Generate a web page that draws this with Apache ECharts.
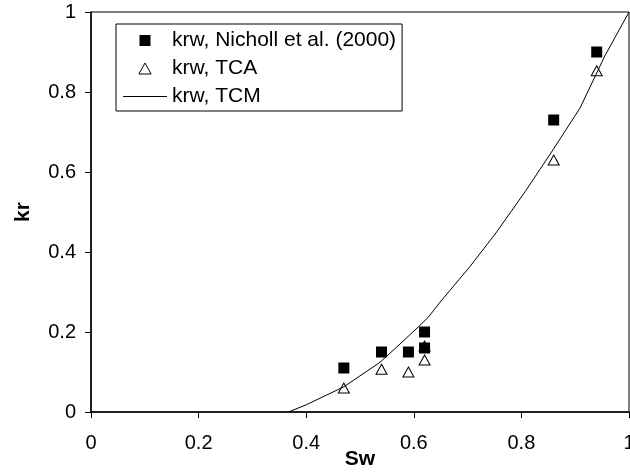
<!DOCTYPE html>
<html><head><meta charset="utf-8">
<script src="https://cdn.jsdelivr.net/npm/echarts@6/dist/echarts.min.js"></script>
<style>html,body{margin:0;padding:0;background:#fff}#c{width:630px;height:475px}</style>
</head><body><div id="c"></div>
<script>
const xTicks = [0, 0.2, 0.4, 0.6, 0.8, 1];
const yTicks = [0, 0.2, 0.4, 0.6, 0.8, 1];
const nichollSw = [0.47, 0.54, 0.59, 0.62, 0.62, 0.86, 0.94];
const nichollKr = [0.11, 0.15, 0.15, 0.20, 0.16, 0.73, 0.90];
const tcaSw = [0.47, 0.54, 0.59, 0.62, 0.62, 0.86, 0.94];
const tcaKr = [0.06, 0.107, 0.10, 0.13, 0.165, 0.63, 0.853];
const tcmSw = [0.367, 0.40, 0.47, 0.537, 0.568, 0.611, 0.627, 0.649, 0.704, 0.754, 0.807, 0.859, 0.909, 0.955, 1.0];
const tcmKr = [0, 0.018, 0.063, 0.124, 0.162, 0.216, 0.237, 0.275, 0.363, 0.45, 0.551, 0.656, 0.76, 0.89, 1.0];
const names = ['krw, Nicholl et al. (2000)', 'krw, TCA', 'krw, TCM'];

const zip = (a, b) => a.map((v, i) => [v, b[i]]);
const FONT = 'Liberation Sans, Arial, sans-serif';
const chart = echarts.init(document.getElementById('c'), null, {renderer: 'canvas'});
chart.setOption({
  animation: false,
  backgroundColor: '#fff',
  grid: {left: 91, right: 1, top: 12, bottom: 63, containLabel: false, outerBoundsMode: 'none',
    show: true, borderColor: '#000', borderWidth: 1},
  xAxis: {
    type: 'value', min: 0, max: 1, interval: 0.2,
    name: 'Sw', nameLocation: 'middle', nameGap: 37, nameMoveOverlap: false,
    nameTextStyle: {fontFamily: FONT, fontSize: 21, fontWeight: 'bold', color: '#000'},
    axisLine: {show: true, onZero: false, lineStyle: {color: '#000', width: 1.5}},
    axisTick: {show: true, inside: false, length: 6, lineStyle: {color: '#000'}},
    axisLabel: {fontFamily: FONT, fontSize: 20, color: '#000', margin: 21,
      formatter: v => { const t = xTicks.find(k => Math.abs(k - v) < 1e-9); return t === undefined ? '' : String(t); }},
    splitLine: {show: false}
  },
  yAxis: {
    type: 'value', min: 0, max: 1, interval: 0.2,
    name: 'kr', nameLocation: 'middle', nameGap: 57, nameMoveOverlap: false,
    nameTextStyle: {fontFamily: FONT, fontSize: 21, fontWeight: 'bold', color: '#000'},
    axisLine: {show: true, onZero: false, lineStyle: {color: '#000', width: 1.5}},
    axisTick: {show: true, inside: false, length: 6, lineStyle: {color: '#000'}},
    axisLabel: {fontFamily: FONT, fontSize: 20, color: '#000', margin: 15,
      formatter: v => { const t = yTicks.find(k => Math.abs(k - v) < 1e-9); return t === undefined ? '' : String(t); }},
    splitLine: {show: false}
  },
  legend: {
    orient: 'vertical', left: 116, top: 24,
    borderColor: '#000', borderWidth: 1, backgroundColor: '#fff',
    padding: [6, 6, 4, 7], itemGap: 7,
    itemWidth: 44, itemHeight: 11,
    textStyle: {fontFamily: FONT, fontSize: 21, color: '#000'},
    data: [
      {name: names[0], icon: 'path://M0,0h10v10h-10z', itemStyle: {color: '#000', opacity: 1}},
      {name: names[1], icon: 'path://M5,0L10,9L0,9Z', itemStyle: {color: '#fff', borderColor: '#000', borderWidth: 1, opacity: 1}},
      {name: names[2], icon: 'path://M0,0h44v1h-44z', itemStyle: {color: '#000', opacity: 1}}
    ]
  },
  series: [
    {name: names[1], type: 'scatter', z: 2, data: zip(tcaSw, tcaKr),
      symbol: 'triangle', symbolSize: [11, 10],
      itemStyle: {color: '#fff', borderColor: '#000', borderWidth: 1, opacity: 1}},
    {name: names[0], type: 'scatter', z: 3, data: zip(nichollSw, nichollKr),
      symbol: 'rect', symbolSize: 11, itemStyle: {color: '#000', opacity: 1}},
    {name: names[2], type: 'line', z: 4, data: zip(tcmSw, tcmKr),
      symbol: 'none', smooth: false, lineStyle: {color: '#000', width: 1}, itemStyle: {color: '#000'}}
  ]
});
</script></body></html>
